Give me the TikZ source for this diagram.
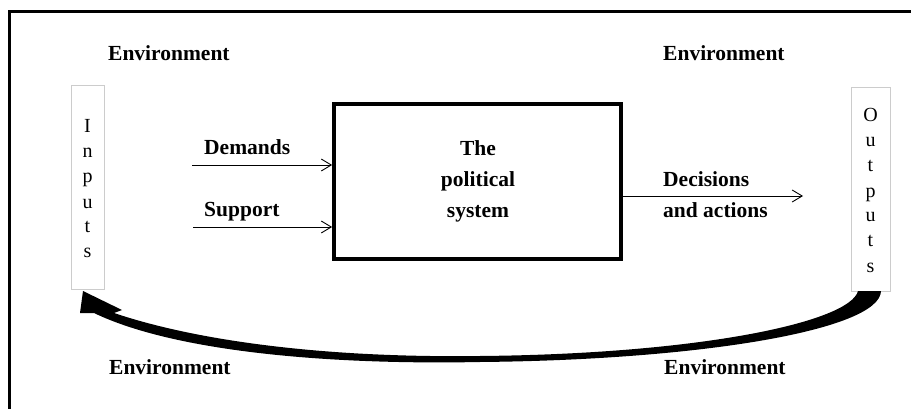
\documentclass[tikz,border=0pt]{standalone}
\usepackage{fontspec}
\setmainfont{Liberation Serif}
\usetikzlibrary{arrows.meta}
\begin{document}
\begin{tikzpicture}[x=1pt,y=-1pt,
  lbl/.style={font=\fontsize{21.5}{24}\selectfont\bfseries, anchor=base west, inner sep=0},
  ctr/.style={font=\fontsize{21.5}{24}\selectfont\bfseries, anchor=base, inner sep=0},
  vbox/.style={draw=black!20, line width=1pt, inner sep=0},
  ltr/.style={font=\fontsize{20}{24}\selectfont, anchor=base, inner sep=0},
  flow/.style={line width=0.9pt, -{Straight Barb[length=10pt,width=12pt]}}]
\useasboundingbox (0,0) rectangle (911,409);
% frame
\draw[line width=3pt] (9.5,420) -- (9.5,11.5) -- (920,11.5);
% environment labels
\node[lbl] (envTL) at (108,61) {Environment};
\node[lbl] (envTR) at (663,61) {Environment};
\node[lbl] (envBL) at (109,374) {Environment};
\node[lbl] (envBR) at (664,374) {Environment};
% system box
\node[draw, line width=3.5pt, minimum width=287pt, minimum height=155pt, inner sep=0] (sys) at (477.4,181.5) {};
\node[ctr] (t1) at (478,156) {The};
\node[ctr] (t2) at (478,187) {political};
\node[ctr] (t3) at (478,218) {system};
% input / output boxes
\node[vbox, minimum width=33pt, minimum height=203pt] (inbox) at (87.5,187.5) {};
\node[vbox, minimum width=39pt, minimum height=203pt] (outbox) at (870.5,189.5) {};
\foreach \c [count=\i] in {I,n,p,u,t,s}
  \node[ltr] (in\i) at (87.5,{108+25*\i}) {\c};
\foreach \c [count=\i] in {O,u,t,p,u,t,s}
  \node[ltr] (out\i) at (870.5,{97+25*\i}) {\c};
% flows
\coordinate (dS) at (192,165);
\coordinate (sS) at (193,227);
\coordinate (dE) at (803,196);
\draw[flow] (dS) -- (dS -| sys.west);
\draw[flow] (sS) -- (sS -| sys.west);
\draw[flow] (sys.east |- dE) -- (dE);
\node[lbl] (dem) at (204,155) {Demands};
\node[lbl] (sup) at (204,217) {Support};
\node[lbl] (dec) at (663,187) {Decisions};
\node[lbl] (act) at (663,218) {and actions};
% feedback arrow
\fill (83,291) -- (80,313) -- (94,313)
  .. controls (175,352) and (330,365) .. (480,362)
  .. controls (700,360) and (880,330) .. (881,291)
  -- (858,291)
  .. controls (850,322) and (700,354) .. (480,356)
  .. controls (330,358) and (200,342) .. (114,313)
  -- (122,310) -- cycle;
\end{tikzpicture}
\end{document}
